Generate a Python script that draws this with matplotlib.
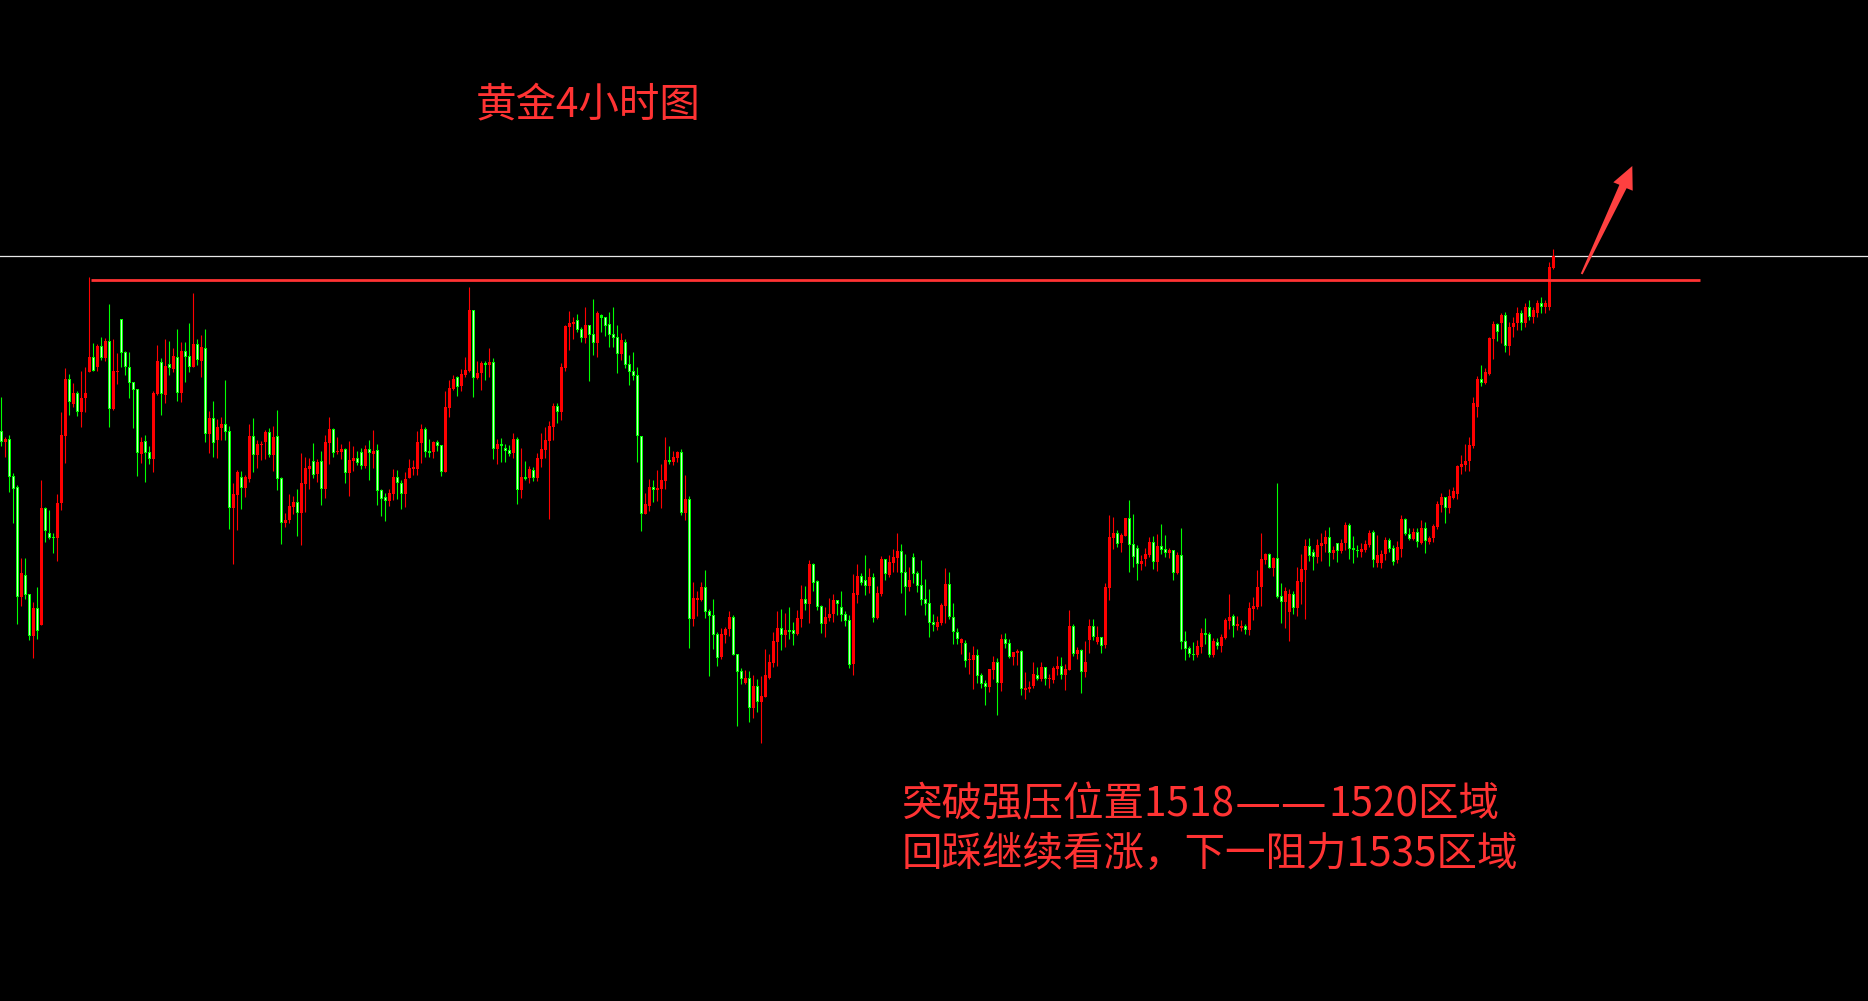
import matplotlib
matplotlib.use("Agg")
import matplotlib.pyplot as plt
from matplotlib.patches import Polygon
import numpy as np

# Gold 4h candles (open, high, low, close)
opens = [1473.6,1470.5,1471.3,1460.2,1456.9,1424.0,1430.5,1424.8,1412.3,1420.6,
         1415.5,1450.7,1443.1,1441.9,1441.7,1452.1,1472.3,1489.3,1481.9,1485.1,
         1479.5,1483.7,1491.5,1495.9,1492.9,1499.2,1495.7,1500.7,1480.3,1491.5,
         1507.3,1497.4,1492.9,1488.4,1486.3,1466.9,1470.6,1467.4,1465.4,1484.9,
         1494.3,1484.6,1493.7,1492.3,1495.8,1485.2,1497.7,1496.2,1492.9,1499.8,
         1494.7,1498.6,1472.9,1477.6,1471.1,1474.6,1475.8,1473.7,1450.7,1454.6,
         1459.9,1456.7,1459.4,1472.3,1466.6,1469.6,1470.5,1473.5,1466.6,1472.3,
         1459.7,1446.2,1447.1,1451.0,1452.5,1449.2,1457.9,1462.4,1464.7,1460.9,
         1464.7,1456.4,1470.2,1474.4,1467.5,1467.5,1468.4,1461.2,1464.8,1465.7,
         1467.5,1463.3,1468.4,1466.9,1468.1,1456.1,1454.0,1452.8,1454.9,1460.0,
         1458.2,1454.9,1459.7,1462.4,1462.4,1470.2,1474.4,1467.8,1467.5,1470.5,
         1469.6,1461.5,1480.7,1486.4,1490.0,1487.3,1490.6,1491.8,1510.1,1489.7,
         1491.2,1494.2,1493.6,1494.5,1468.4,1469.9,1468.7,1468.1,1467.2,1471.4,
         1456.1,1460.0,1459.7,1462.1,1459.7,1465.4,1468.1,1470.8,1475.0,1481.3,
         1479.5,1492.7,1505.0,1505.9,1507.0,1504.4,1501.7,1505.6,1502.9,1500.2,
         1508.6,1508.0,1505.9,1502.9,1502.0,1496.9,1500.5,1493.9,1491.8,1490.6,
         1472.3,1448.9,1451.3,1457.0,1456.1,1456.4,1458.8,1465.1,1464.5,1465.7,
         1467.5,1449.2,1453.4,1417.4,1423.1,1423.1,1427.0,1419.8,1418.6,1412.9,
         1406.0,1412.6,1414.4,1418.0,1406.9,1401.8,1398.2,1399.7,1390.7,1397.3,
         1392.5,1394.0,1399.7,1404.2,1410.5,1414.7,1412.6,1414.1,1414.1,1412.9,
         1417.4,1423.4,1421.9,1433.9,1428.8,1421.3,1415.9,1417.7,1418.9,1423.1,
         1421.0,1418.9,1417.1,1403.9,1424.6,1430.3,1429.1,1427.3,1430.0,1417.7,
         1424.9,1435.4,1430.6,1434.2,1435.7,1437.8,1431.5,1427.0,1436.0,1431.2,
         1427.6,1423.4,1422.2,1416.5,1415.0,1416.2,1421.3,1427.9,1418.0,1413.5,
         1410.2,1410.2,1405.1,1405.1,1406.6,1400.6,1398.2,1397.0,1402.1,1404.5,
         1398.2,1411.4,1410.2,1406.0,1407.2,1407.8,1396.1,1396.4,1397.3,1400.6,
         1399.4,1403.0,1399.4,1399.1,1402.3,1403.2,1400.6,1402.1,1415.2,1406.9,
         1408.1,1401.5,1411.1,1415.3,1410.5,1412.0,1409.6,1426.7,1441.7,1443.2,
         1440.2,1442.3,1447.7,1439.9,1438.7,1433.9,1435.4,1436.6,1440.5,1434.5,
         1439.3,1438.4,1437.2,1438.1,1431.2,1436.6,1410.8,1408.7,1406.9,1406.6,
         1409.0,1413.2,1412.9,1406.6,1410.5,1409.3,1411.7,1416.8,1418.3,1415.3,
         1414.7,1415.3,1414.1,1420.4,1421.0,1427.0,1435.1,1436.9,1432.7,1435.7,
         1424.3,1422.5,1419.5,1424.9,1420.7,1428.5,1432.1,1439.3,1437.5,1436.0,
         1439.3,1439.9,1442.0,1437.2,1440.2,1437.8,1440.2,1445.6,1438.7,1438.1,
         1437.5,1438.0,1439.5,1443.4,1434.0,1434.0,1436.8,1441.0,1438.6,1435.0,
         1438.3,1447.3,1442.8,1441.3,1443.4,1440.1,1444.6,1440.4,1441.6,1444.9,
         1451.5,1453.9,1450.6,1453.6,1454.8,1462.9,1463.5,1464.7,1469.2,1481.0,
         1489.3,1488.2,1490.9,1501.3,1505.8,1506.1,1508.5,1499.3,1505.0,1506.0,
         1509.0,1506.0,1511.0,1508.0,1509.0,1512.0,1511.0,1511.0,1522.7]
highs = [1484.0,1472.0,1472.5,1461.0,1457.5,1435.6,1435.6,1424.8,1422.4,1426.9,
         1459.0,1451.0,1450.0,1443.0,1454.8,1479.4,1492.6,1490.8,1488.1,1485.7,
         1491.7,1492.9,1520.0,1500.1,1499.8,1501.9,1501.6,1511.9,1501.3,1497.1,
         1507.3,1497.7,1497.4,1488.4,1486.3,1471.9,1472.5,1469.2,1485.7,1499.5,
         1495.5,1501.3,1500.7,1498.6,1504.3,1500.4,1500.4,1506.1,1515.1,1501.3,
         1502.5,1504.3,1479.7,1482.7,1477.3,1477.9,1489.0,1475.2,1458.1,1462.0,
         1461.7,1460.5,1475.8,1477.6,1471.1,1470.8,1474.1,1474.7,1475.3,1480.1,
         1460.0,1449.2,1454.9,1454.3,1456.4,1467.2,1466.0,1465.7,1470.2,1465.4,
         1467.8,1472.6,1478.0,1474.7,1472.0,1469.9,1468.7,1470.8,1469.3,1467.8,
         1468.7,1469.6,1471.1,1474.1,1469.9,1456.4,1455.2,1456.4,1462.4,1462.1,
         1459.1,1461.5,1465.4,1465.1,1473.8,1475.9,1475.0,1471.4,1470.8,1471.1,
         1469.6,1485.8,1489.1,1490.6,1490.3,1492.4,1495.9,1517.0,1510.1,1494.8,
         1494.8,1494.8,1498.6,1495.7,1471.4,1471.7,1469.9,1469.6,1473.2,1472.0,
         1468.7,1464.8,1463.3,1463.0,1467.2,1473.2,1475.0,1476.8,1482.2,1482.2,
         1494.2,1505.6,1509.8,1508.0,1508.9,1505.0,1511.0,1505.6,1513.4,1509.8,
         1508.9,1508.0,1509.5,1511.0,1505.6,1503.2,1501.4,1496.6,1497.5,1493.0,
         1472.3,1455.2,1459.4,1459.1,1462.1,1463.9,1472.0,1469.3,1467.8,1467.8,
         1468.4,1460.6,1454.3,1428.5,1425.8,1428.5,1432.1,1420.4,1423.4,1413.5,
         1414.7,1415.0,1419.8,1418.6,1406.9,1402.7,1402.1,1401.8,1400.6,1399.4,
         1400.3,1408.4,1406.9,1413.5,1419.8,1420.4,1419.2,1421.0,1416.5,1420.1,
         1427.6,1427.3,1435.1,1434.2,1429.1,1421.6,1421.0,1423.7,1424.9,1423.1,
         1425.8,1419.8,1418.6,1430.9,1433.9,1431.2,1436.6,1432.7,1431.2,1427.3,
         1436.3,1435.4,1436.6,1438.4,1443.2,1439.9,1436.9,1433.0,1437.2,1431.8,
         1435.1,1429.4,1426.4,1418.9,1418.3,1422.2,1432.7,1431.5,1422.2,1414.7,
         1411.7,1411.1,1407.5,1409.3,1408.4,1401.2,1399.1,1402.4,1406.3,1405.7,
         1412.9,1413.2,1411.4,1407.5,1408.4,1408.1,1401.5,1398.8,1404.5,1403.0,
         1404.5,1403.0,1400.9,1403.3,1406.2,1405.9,1403.8,1420.0,1415.8,1409.0,
         1408.4,1410.7,1417.4,1417.4,1415.3,1412.0,1428.2,1448.6,1448.0,1444.0,
         1443.2,1447.7,1453.1,1448.9,1439.6,1436.6,1438.7,1442.0,1442.3,1442.9,
         1445.9,1442.6,1438.7,1438.1,1437.5,1444.7,1413.8,1409.3,1410.5,1411.1,
         1414.7,1417.7,1413.5,1411.7,1411.7,1412.9,1417.7,1424.9,1418.9,1418.3,
         1417.1,1415.9,1422.5,1424.0,1432.1,1443.2,1437.2,1437.2,1436.0,1458.2,
         1428.2,1427.0,1426.4,1425.8,1433.0,1436.9,1441.4,1441.7,1438.4,1441.4,
         1443.2,1444.1,1445.0,1439.3,1440.2,1441.4,1446.5,1446.2,1442.3,1439.6,
         1440.0,1441.0,1444.0,1444.0,1442.5,1438.0,1441.8,1441.6,1439.5,1440.7,
         1448.5,1447.7,1444.6,1444.6,1444.6,1447.0,1446.4,1442.2,1445.8,1452.7,
         1455.1,1453.9,1456.3,1456.9,1463.5,1466.5,1469.8,1471.9,1483.9,1490.2,
         1493.5,1492.7,1501.9,1506.7,1506.1,1509.1,1509.4,1506.5,1508.0,1511.0,
         1510.0,1512.0,1513.0,1511.0,1513.0,1514.0,1513.0,1524.4,1528.3]
lows = [1469.2,1466.0,1455.5,1446.2,1415.8,1421.3,1423.3,1411.0,1405.7,1411.3,
        1415.5,1440.5,1441.2,1437.2,1434.8,1450.0,1464.2,1478.6,1481.0,1478.3,
        1475.0,1479.5,1491.5,1491.8,1491.7,1495.0,1494.7,1475.0,1480.0,1487.9,
        1493.0,1490.6,1483.7,1474.7,1460.3,1464.2,1458.5,1463.9,1461.5,1484.6,
        1478.6,1482.2,1490.4,1491.5,1482.8,1482.5,1488.4,1491.5,1492.9,1493.6,
        1490.0,1470.5,1467.2,1466.0,1465.7,1471.1,1471.1,1444.4,1433.9,1444.1,
        1450.4,1454.0,1458.5,1461.5,1462.7,1465.1,1465.4,1466.0,1461.8,1456.1,
        1439.9,1445.0,1446.2,1448.9,1442.3,1439.6,1449.5,1456.4,1459.7,1458.5,
        1451.6,1453.7,1463.9,1466.0,1466.9,1465.4,1458.2,1454.3,1461.8,1463.6,
        1462.4,1462.7,1459.1,1462.7,1451.6,1448.3,1446.8,1451.3,1453.1,1453.4,
        1450.4,1451.0,1459.7,1460.6,1460.6,1464.2,1466.0,1466.0,1465.7,1467.8,
        1460.3,1461.5,1478.0,1486.1,1484.3,1485.8,1490.0,1491.5,1484.0,1489.4,
        1486.1,1489.1,1490.0,1465.4,1463.9,1464.5,1464.5,1466.3,1465.7,1451.9,
        1453.7,1459.1,1458.2,1458.8,1458.8,1463.0,1465.7,1447.4,1471.1,1476.2,
        1477.1,1491.8,1498.1,1501.4,1503.5,1500.5,1500.2,1488.8,1496.6,1496.0,
        1503.5,1502.3,1499.0,1499.0,1491.2,1495.1,1492.7,1487.6,1489.1,1464.5,
        1443.8,1448.9,1449.8,1452.5,1452.8,1450.7,1456.4,1463.9,1463.6,1464.5,
        1448.6,1447.1,1408.7,1415.3,1418.3,1422.8,1417.7,1400.3,1408.4,1403.3,
        1405.4,1410.2,1412.3,1406.6,1385.3,1397.9,1397.9,1386.5,1387.7,1389.4,
        1380.2,1394.0,1399.4,1403.0,1403.3,1408.1,1409.0,1411.4,1409.6,1412.6,
        1415.0,1420.1,1416.2,1425.8,1420.1,1413.2,1412.0,1416.8,1416.5,1418.6,
        1416.8,1415.3,1402.7,1400.6,1422.2,1427.6,1424.6,1425.2,1416.5,1417.4,
        1424.3,1429.1,1430.0,1431.5,1431.5,1425.2,1418.6,1425.8,1428.2,1425.5,
        1421.6,1418.6,1412.0,1413.8,1414.1,1415.6,1416.2,1417.4,1409.9,1409.9,
        1406.9,1403.0,1400.9,1396.4,1398.2,1396.7,1391.6,1395.5,1399.4,1388.6,
        1395.8,1408.7,1405.7,1403.6,1403.6,1394.6,1393.4,1395.5,1396.7,1399.1,
        1398.8,1397.6,1396.7,1398.2,1400.5,1399.4,1396.0,1402.1,1406.3,1405.4,
        1395.0,1400.0,1407.2,1411.1,1409.9,1407.2,1408.7,1423.1,1438.4,1439.0,
        1437.5,1442.3,1431.5,1433.0,1429.1,1432.1,1433.3,1436.0,1432.4,1431.8,
        1436.9,1436.0,1435.7,1429.1,1430.9,1408.4,1405.1,1406.0,1405.1,1406.0,
        1407.2,1409.9,1406.0,1406.0,1408.4,1407.5,1411.4,1414.4,1412.0,1414.1,
        1413.8,1412.9,1412.6,1417.1,1420.4,1421.3,1433.9,1432.7,1430.3,1423.7,
        1416.2,1414.7,1410.8,1418.9,1418.3,1421.9,1417.4,1434.8,1432.1,1434.2,
        1434.8,1437.5,1433.3,1435.4,1434.5,1437.2,1438.1,1435.4,1434.2,1436.0,
        1435.8,1437.5,1439.0,1433.0,1433.0,1432.5,1435.0,1437.5,1433.5,1434.0,
        1436.0,1442.5,1441.0,1441.0,1439.0,1439.8,1437.2,1439.8,1440.4,1444.3,
        1449.4,1446.1,1449.1,1453.3,1453.3,1460.8,1461.8,1461.8,1468.7,1478.0,
        1487.3,1487.9,1490.6,1495.4,1500.8,1500.2,1497.5,1496.6,1502.0,1504.0,
        1504.0,1505.0,1507.0,1506.0,1508.0,1509.0,1509.0,1510.0,1522.2]
closes = [1470.5,1471.3,1460.0,1456.3,1424.0,1431.1,1424.5,1412.3,1420.6,1413.7,
          1450.7,1443.7,1441.7,1441.7,1452.1,1472.5,1489.3,1482.5,1485.1,1479.5,
          1483.7,1485.1,1495.9,1491.8,1499.2,1495.7,1500.7,1480.4,1491.7,1491.8,
          1497.2,1492.9,1488.2,1486.1,1467.2,1470.4,1467.2,1465.4,1485.1,1494.7,
          1484.9,1493.2,1492.7,1496.2,1485.2,1497.7,1495.9,1492.9,1499.8,1495.0,
          1498.9,1472.9,1477.6,1470.2,1474.9,1475.8,1473.5,1450.7,1454.9,1461.5,
          1456.7,1459.9,1472.3,1466.6,1469.9,1469.9,1473.5,1466.6,1472.0,1459.4,
          1446.2,1447.1,1451.3,1452.5,1449.2,1458.2,1462.7,1463.3,1460.6,1464.5,
          1456.4,1470.5,1474.4,1467.2,1467.8,1468.4,1461.2,1465.1,1465.7,1464.2,
          1463.3,1468.4,1467.2,1467.8,1455.8,1453.4,1452.8,1455.2,1460.0,1458.2,
          1454.9,1459.4,1462.7,1463.0,1470.5,1474.4,1467.5,1467.2,1470.5,1469.3,
          1461.5,1481.0,1486.7,1489.4,1487.0,1490.9,1492.1,1510.1,1489.7,1491.2,
          1494.2,1493.6,1494.5,1468.4,1469.9,1469.3,1467.8,1466.9,1471.4,1456.1,
          1460.0,1459.4,1462.4,1459.7,1465.7,1468.4,1471.1,1475.3,1481.3,1479.5,
          1493.0,1505.3,1506.2,1506.5,1504.1,1501.7,1505.6,1502.6,1500.2,1509.2,
          1507.7,1505.3,1502.6,1501.7,1496.9,1501.1,1493.6,1491.5,1490.3,1472.3,
          1448.9,1451.9,1457.0,1456.1,1456.7,1459.1,1465.1,1464.5,1466.0,1467.5,
          1449.2,1453.4,1417.4,1423.7,1423.7,1427.0,1419.5,1418.3,1412.6,1405.7,
          1412.9,1414.4,1418.0,1406.6,1401.5,1399.4,1399.7,1390.7,1397.3,1392.5,
          1394.3,1400.6,1404.5,1410.8,1414.7,1412.6,1414.1,1413.5,1412.9,1417.7,
          1423.4,1421.9,1433.9,1428.2,1421.0,1415.9,1418.0,1418.9,1423.1,1421.9,
          1418.6,1416.8,1403.6,1425.2,1430.3,1428.2,1427.3,1430.0,1417.7,1425.2,
          1435.4,1430.9,1434.5,1436.0,1437.8,1431.2,1427.0,1429.1,1430.9,1427.3,
          1423.1,1421.9,1416.2,1415.6,1416.5,1421.6,1427.9,1418.0,1413.5,1411.4,
          1411.4,1404.8,1405.4,1406.6,1400.3,1397.9,1397.0,1402.4,1404.5,1398.2,
          1411.4,1409.9,1406.0,1407.5,1407.8,1396.4,1396.7,1397.0,1400.9,1399.4,
          1403.0,1399.4,1399.7,1402.7,1403.2,1400.6,1402.3,1415.2,1406.9,1408.1,
          1401.5,1404.4,1415.3,1412.0,1412.0,1409.3,1427.0,1442.0,1443.2,1439.9,
          1442.6,1447.7,1439.6,1436.0,1433.9,1434.8,1436.9,1440.5,1434.5,1439.3,
          1438.1,1437.2,1438.1,1431.2,1436.6,1410.5,1408.4,1406.9,1406.6,1409.3,
          1413.2,1412.6,1406.6,1410.8,1409.3,1412.0,1417.1,1418.0,1415.3,1415.9,
          1415.3,1414.1,1420.7,1421.3,1427.0,1435.4,1436.9,1432.7,1435.7,1424.0,
          1422.5,1425.8,1424.9,1420.7,1428.8,1432.4,1439.3,1436.3,1436.0,1439.6,
          1440.2,1442.0,1437.2,1438.1,1437.8,1440.2,1445.6,1438.4,1438.1,1437.8,
          1438.3,1439.8,1443.1,1435.0,1436.5,1436.8,1441.0,1438.3,1434.5,1438.9,
          1447.3,1442.8,1441.3,1443.4,1440.4,1444.6,1440.7,1441.6,1445.2,1451.8,
          1453.9,1450.6,1454.2,1455.7,1463.2,1463.8,1464.7,1469.5,1482.1,1489.3,
          1488.2,1491.5,1501.6,1505.8,1503.4,1508.5,1499.3,1505.0,1506.0,1509.0,
          1506.0,1511.0,1508.0,1510.0,1512.0,1511.0,1512.0,1522.9,1526.2]

resistance = 1518.9     # red horizontal line
last_price = 1526.2     # thin white line
title = "黄金4小时图"
note_1 = ["突破强压位置1518", "——", "1520区域"]
note_2 = "回踩继续看涨，下一阻力1535区域"

W, H = 1868, 1001
RED = "#ff3333"

fig = plt.figure(figsize=(W / 100, H / 100), dpi=100, facecolor="black")
ax = fig.add_axes([0, 0, 1, 1])
ax.set_facecolor("black")
ax.set_axis_off()

o = np.array(opens); h = np.array(highs); l = np.array(lows); c = np.array(closes)
x = np.arange(len(o))
up = c >= o
col = np.where(up, "#ff0000", "#00ff00")

ax.vlines(x, l, h, colors=col, linewidth=0.8, zorder=2)
bot = np.minimum(o, c)
hgt = np.maximum(np.abs(c - o), 0.3)
ax.bar(x, hgt, bottom=bot, width=0.75, color=col, linewidth=0, zorder=3)
# lighter core on the down candles
dn = ~up & (hgt > 0.9)
ax.bar(x[dn], hgt[dn] - 0.6, bottom=bot[dn] + 0.3, width=0.25,
       color="#c8ffc8", linewidth=0, zorder=4)

ax.axhline(last_price, color="#e8e8e8", linewidth=0.9, zorder=1)
ax.hlines(resistance, 22.5, 424.7, colors=RED, linewidth=2.0, zorder=5)

ax.set_xlim(-0.333, 466.67)
ax.set_ylim(1302.7, 1603.0)

# arrow drawn in pixel space
def px(pts):
    return [(a / W, 1 - b / H) for a, b in pts]

arrow = Polygon(px([(1580.8, 273.6), (1619.4, 184.8), (1613.3, 182.3),
                    (1632.3, 166.0), (1632.7, 190.7), (1626.6, 188.2),
                    (1582.6, 274.4)]),
                closed=True, transform=fig.transFigure, facecolor="#ff4040",
                edgecolor="none", zorder=6)
fig.patches.append(arrow)

fam = ["Noto Sans CJK SC", "DejaVu Sans"]
fs = 29.2
fig.text(476 / W, 1 - 116 / H, title, color=RED, fontsize=fs, family=fam,
         va="baseline", ha="left")
fig.text(902 / W, 1 - 866 / H, note_2, color=RED, fontsize=fs, family=fam,
         va="baseline", ha="left")

# first note: the double dash is drawn wider, as in the screenshot
renderer = fig.canvas.get_renderer()
xpos = 902
dash_scale = 1.28
for part in note_1:
    big = part == "——"
    size = fs * dash_scale if big else fs
    base = 816 + (4 if big else 0)
    t = fig.text(xpos / W, 1 - base / H, part, color=RED, fontsize=size,
                 family=fam, va="baseline", ha="left")
    xpos = t.get_window_extent(renderer).x1

fig.savefig("out.png", dpi=100, facecolor="black")
